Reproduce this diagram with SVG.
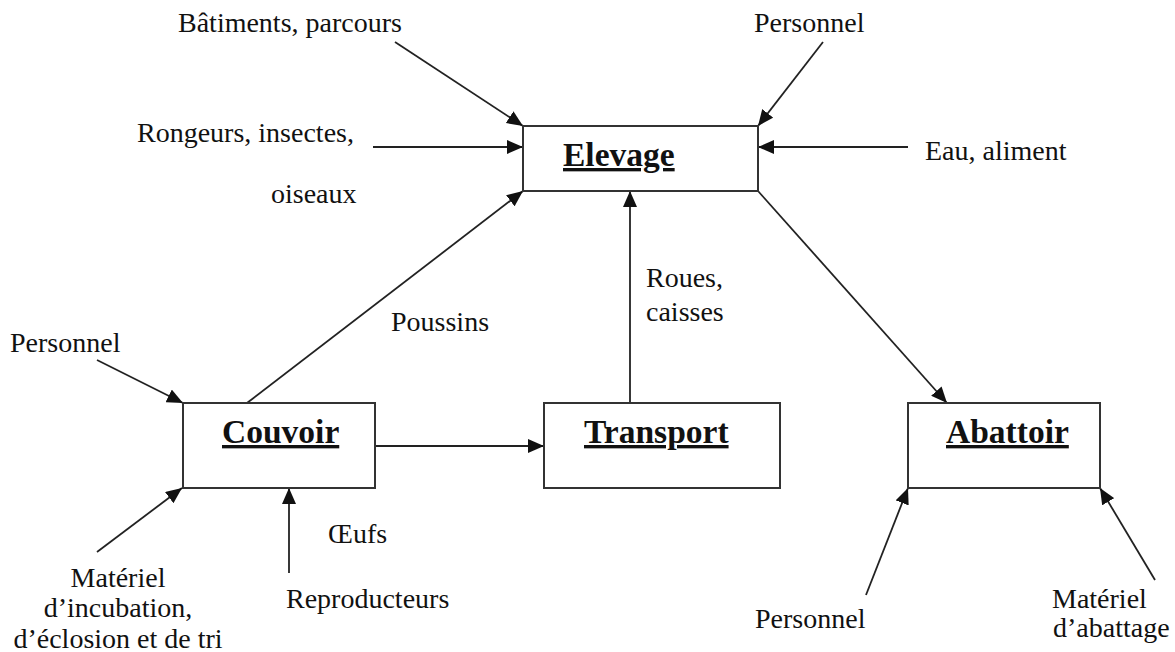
<svg xmlns="http://www.w3.org/2000/svg" width="1175" height="652" viewBox="0 0 1175 652">
<style>
.box{fill:#fff;stroke:#333;stroke-width:2}
.t{font-family:"Liberation Serif","Times New Roman",serif;font-size:28px;fill:#111}
.h{font-family:"Liberation Serif","Times New Roman",serif;font-size:33.5px;font-weight:bold;fill:#111;text-decoration:underline}
.c{stroke:#222;stroke-width:1.8;fill:none;marker-end:url(#ah)}
</style>
<defs>
<marker id="ah" markerUnits="userSpaceOnUse" markerWidth="17" markerHeight="14" refX="16" refY="7" orient="auto">
<path d="M0,0 L16,7 L0,14 z" fill="#111"/>
</marker>
</defs>
<rect width="1175" height="652" fill="#fff"/>
<g id="connectors">
<line class="c" x1="395" y1="42" x2="523" y2="126"/>
<line class="c" x1="373" y1="147" x2="523" y2="147"/>
<line class="c" x1="823" y1="42" x2="758" y2="126"/>
<line class="c" x1="908" y1="147" x2="758" y2="147"/>
<line class="c" x1="247" y1="403" x2="523" y2="191"/>
<line class="c" x1="630" y1="403" x2="630" y2="191"/>
<line class="c" x1="758" y1="191" x2="947" y2="403"/>
<line class="c" x1="375" y1="446" x2="544" y2="446"/>
<line class="c" x1="97" y1="360" x2="183" y2="403"/>
<line class="c" x1="97" y1="552" x2="182" y2="488"/>
<line class="c" x1="289" y1="573" x2="289" y2="488"/>
<line class="c" x1="866" y1="595" x2="908" y2="488"/>
<line class="c" x1="1155" y1="580" x2="1100" y2="488"/>
</g>
<g id="elevage">
<rect class="box" x="523" y="126" width="235" height="65"/>
<text class="h" x="563" y="166">Elevage</text>
</g>
<g id="couvoir">
<rect class="box" x="183" y="403" width="192" height="85"/>
<text class="h" x="222" y="443">Couvoir</text>
</g>
<g id="transport">
<rect class="box" x="544" y="403" width="236" height="85"/>
<text class="h" x="584" y="443">Transport</text>
</g>
<g id="abattoir">
<rect class="box" x="908" y="403" width="192" height="85"/>
<text class="h" x="946" y="443">Abattoir</text>
</g>
<g id="labels">
<text class="t" x="178" y="32">Bâtiments, parcours</text>
<text class="t" x="137" y="142">Rongeurs, insectes,</text>
<text class="t" x="271" y="203">oiseaux</text>
<text class="t" x="754" y="32">Personnel</text>
<text class="t" x="925" y="160">Eau, aliment</text>
<text class="t" x="10" y="352">Personnel</text>
<text class="t" x="391" y="331">Poussins</text>
<text class="t" x="646" y="287">Roues,</text>
<text class="t" x="646" y="321">caisses</text>
<text class="t" x="328" y="543">Œufs</text>
<text class="t" x="286" y="608">Reproducteurs</text>
<text class="t" x="118" y="587" text-anchor="middle">Matériel</text>
<text class="t" x="118" y="617" text-anchor="middle">d’incubation,</text>
<text class="t" x="118" y="648" text-anchor="middle">d’éclosion et de tri</text>
<text class="t" x="755" y="628">Personnel</text>
<text class="t" x="1052" y="608">Matériel</text>
<text class="t" x="1053" y="637">d’abattage</text>
</g>
</svg>
